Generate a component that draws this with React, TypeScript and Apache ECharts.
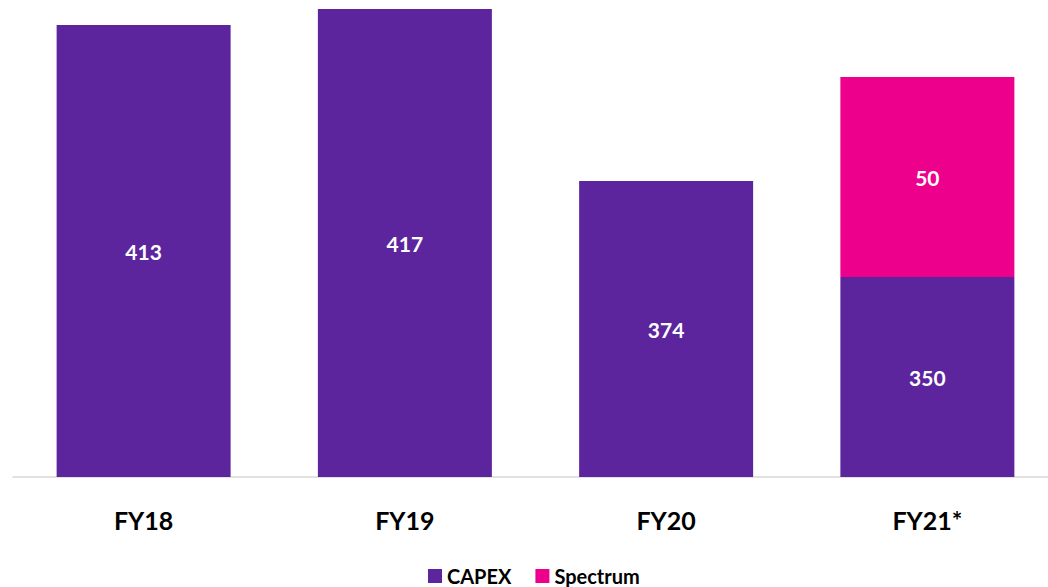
import React, { useEffect, useRef } from "react";
import * as echarts from "echarts";

const categories = ["FY18", "FY19", "FY20", "FY21*"];
const capex = [413, 417, 374, 350];
const spectrum: (number | null)[] = [null, null, null, 50];

export default function App() {
  const ref = useRef<HTMLDivElement>(null);
  useEffect(() => {
    const chart = echarts.init(ref.current!, null, { renderer: "svg" });
    const font = "Lato, 'Open Sans', sans-serif";
    chart.setOption({
      animation: false,
      grid: { left: 13, right: 2, top: 5, bottom: 110 },
      legend: {
        top: 566,
        left: 428,
        padding: 0,
        itemWidth: 14,
        itemHeight: 14,
        itemGap: 24,
        icon: "rect",
        textStyle: { fontFamily: font, fontWeight: "bold", fontSize: 20, color: "#000" },
        data: ["CAPEX", "Spectrum"],
      },
      xAxis: {
        type: "category",
        data: categories,
        axisLine: { lineStyle: { color: "#d9d9d9", width: 1.5 } },
        axisTick: { show: false },
        axisLabel: {
          fontFamily: font,
          fontWeight: "bold",
          fontSize: 25,
          color: "#000",
          margin: 30,
        },
      },
      yAxis: {
        type: "value",
        min: 300,
        max: 418,
        show: false,
        splitLine: { show: false },
      },
      series: [
        {
          name: "CAPEX",
          type: "bar",
          stack: "total",
          data: capex,
          barWidth: 174,
          itemStyle: { color: "#5C259E" },
          label: {
            show: true,
            position: "inside",
            color: "#fff",
            fontFamily: font,
            fontWeight: "bold",
            fontSize: 21,
          },
        },
        {
          name: "Spectrum",
          type: "bar",
          stack: "total",
          data: spectrum,
          barWidth: 174,
          itemStyle: { color: "#EC008C" },
          label: {
            show: true,
            position: "inside",
            color: "#fff",
            fontFamily: font,
            fontWeight: "bold",
            fontSize: 21,
          },
        },
      ],
    });
    return () => chart.dispose();
  }, []);
  return (
    <div
      style={{
        position: "absolute",
        left: 0,
        top: 0,
        width: 1048,
        height: 587,
        overflow: "hidden",
      }}
    >
      <div ref={ref} style={{ width: 1060, height: 587 }} />
    </div>
  );
}
